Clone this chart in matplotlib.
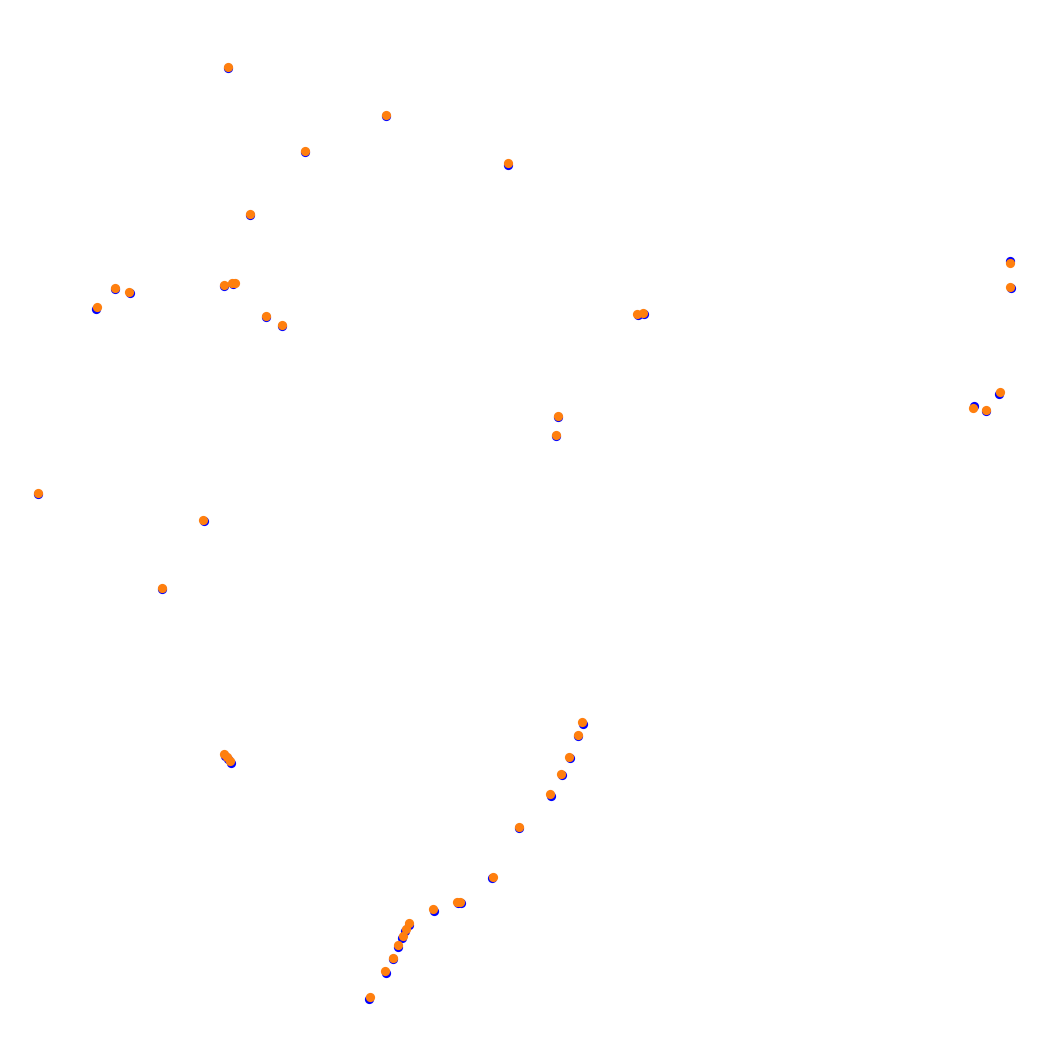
import matplotlib
matplotlib.use("Agg")
import matplotlib.pyplot as plt

# series 1 (blue) positions
blue_x = [228, 386, 305, 508, 250, 115, 130, 96, 224, 233, 266, 282, 638, 644,
          1010, 1011, 999, 974, 986, 558, 556, 38, 204, 162,
          225, 228, 231, 583, 578, 570, 562, 551, 519, 492, 458, 461, 434,
          409, 405, 402, 398, 393, 386, 369]
blue_y = [68, 116, 152, 165, 215, 289, 293, 309, 286, 284, 317, 326, 315, 314,
          261, 288, 394, 406, 411, 417, 436, 494, 521, 589,
          756, 759, 763, 724, 736, 758, 775, 796, 828, 878, 903, 903, 911,
          925, 931, 938, 947, 959, 973, 999]

# series 2 (orange) positions
orange_x = [228, 386, 305, 508, 250, 115, 129, 97, 224, 232, 235, 266, 282, 637, 643,
            1010, 1010, 1000, 973, 986, 558, 556, 38, 203, 162,
            224, 227, 230, 582, 578, 569, 561, 550, 519, 492.5, 457, 460, 433,
            408.5, 406, 403, 397.5, 392.5, 384.5, 370]
orange_y = [67, 115, 151, 163, 214, 288, 292, 307, 285, 283, 283, 316, 325, 314, 313,
            263, 287, 392, 408, 410, 416, 435, 493, 520, 588,
            754, 757, 761, 722, 735, 757, 774, 794, 827, 876.5, 901.5, 901.5, 908.5,
            922.5, 928.5, 935.5, 945, 957.5, 970.5, 996.5]

fig = plt.figure(figsize=(10.52, 10.46), dpi=100)
ax = fig.add_axes([0, 0, 1, 1])
ax.scatter(blue_x, blue_y, s=44, color="#0000ff", linewidths=0, zorder=2)
ax.scatter(orange_x, orange_y, s=44, color="#ff7f0e", linewidths=0, zorder=3)
ax.set_xlim(0, 1052)
ax.set_ylim(1046, 0)
ax.axis("off")
fig.savefig("out.png", dpi=100, facecolor="white")
